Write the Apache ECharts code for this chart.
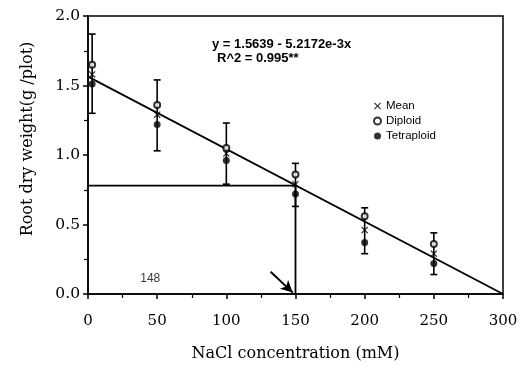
<!DOCTYPE html>
<html><head><meta charset="utf-8">
<script src="https://cdn.jsdelivr.net/npm/echarts@6/dist/echarts.min.js"></script>
<style>html,body{margin:0;padding:0;background:#fff}#c{width:526px;height:372px}</style>
</head><body><div id="c"></div>
<script>
var concentrations = [3, 50, 100, 150, 200, 250];
var diploid    = [1.65, 1.36, 1.05, 0.86, 0.56, 0.36];
var meanVals   = [1.58, 1.29, 1.01, 0.79, 0.46, 0.29];
var tetraploid = [1.51, 1.22, 0.96, 0.72, 0.37, 0.22];
var errLow     = [1.30, 1.03, 0.79, 0.63, 0.29, 0.14];
var errHigh    = [1.87, 1.54, 1.23, 0.94, 0.62, 0.44];
var regressionLine = [[0, 1.5639], [300, 0]];
var refLine = [[0, 0.78], [150, 0.78], [150, 0]];
var arrowFrom = [132, 0.16], arrowTo = [148, 0.01];
var annotationLabel = '148', annotationPos = [45, 0.11];
var equationText = 'y = 1.5639 - 5.2172e-3x';
var r2Text = 'R^2 = 0.995**';

function pairs(ys){ return concentrations.map(function(x,i){return [x, ys[i]];}); }

var chart = echarts.init(document.getElementById('c'), null, {renderer:'canvas'});
var serif = 'DejaVu Serif';
var crossPath = 'path://M0,1.2L1.2,0L5,3.8L8.8,0L10,1.2L6.2,5L10,8.8L8.8,10L5,6.2L1.2,10L0,8.8L3.8,5Z';
chart.setOption({
  animation:false,
  backgroundColor:'#fff',
  grid:{left:88, right:23, top:16, bottom:78, show:true, borderColor:'#000', borderWidth:1.5, backgroundColor:'transparent'},
  xAxis:{type:'value', min:0, max:300, interval:50,
    name:'NaCl concentration (mM)', nameLocation:'middle', nameGap:52,
    nameTextStyle:{fontFamily:serif, fontSize:16, color:'#000'},
    axisLine:{onZero:false, lineStyle:{color:'#000', width:1.5}},
    axisTick:{show:true, length:5, lineStyle:{color:'#000', width:1.5}},
    minorTick:{show:true, splitNumber:2, length:4, lineStyle:{color:'#000', width:1.2}},
    axisLabel:{fontFamily:serif, fontSize:15, color:'#000', margin:20},
    splitLine:{show:false}},
  yAxis:{type:'value', min:0, max:2, interval:0.5,
    name:'Root dry weight(g /plot)', nameLocation:'middle', nameGap:52,
    nameTextStyle:{fontFamily:serif, fontSize:16, color:'#000', padding:[0,0,0,32]},
    axisLine:{onZero:false, lineStyle:{color:'#000', width:1.5}},
    axisTick:{show:true, length:5, lineStyle:{color:'#000', width:1.5}},
    minorTick:{show:true, splitNumber:2, length:4, lineStyle:{color:'#000', width:1.2}},
    axisLabel:{fontFamily:serif, fontSize:15.5, color:'#000', margin:8, formatter:function(v){return v.toFixed(1);}},
    splitLine:{show:false}},
  legend:{orient:'vertical', left:368, top:95, itemGap:3, itemWidth:7, itemHeight:7,
    textStyle:{fontFamily:'Liberation Sans', fontSize:11.5, color:'#000'},
    data:['Mean','Diploid','Tetraploid']},
  graphic:[
    {type:'text', left:212, top:38, style:{text:equationText, fontFamily:'Liberation Sans', fontSize:13, fontWeight:'bold', fill:'#000'}},
    {type:'text', left:217, top:52, style:{text:r2Text, fontFamily:'Liberation Sans', fontSize:13, fontWeight:'bold', fill:'#000'}}
  ],
  series:[
    {type:'line', name:'reg', data:regressionLine, symbol:'none', lineStyle:{color:'#000', width:1.8}, silent:true, z:2},
    {type:'line', name:'ref', data:refLine, symbol:'none', lineStyle:{color:'#000', width:1.8}, silent:true, z:2,
      markLine:{silent:true, symbol:['none','arrow'], symbolSize:[9,12], label:{show:false},
        lineStyle:{color:'#000', width:2, type:'solid'},
        data:[[{coord:arrowFrom},{coord:arrowTo}]]}},
    {type:'custom', name:'err', silent:true, z:3,
      data: concentrations.map(function(x,i){return [x, errLow[i], errHigh[i]];}),
      renderItem:function(params, api){
        var lo = api.coord([api.value(0), api.value(1)]);
        var hi = api.coord([api.value(0), api.value(2)]);
        var w = 3.5;
        var st = {stroke:'#000', lineWidth:1.6};
        return {type:'group', children:[
          {type:'line', shape:{x1:lo[0], y1:lo[1], x2:hi[0], y2:hi[1]}, style:st},
          {type:'line', shape:{x1:lo[0]-w, y1:lo[1], x2:lo[0]+w, y2:lo[1]}, style:st},
          {type:'line', shape:{x1:hi[0]-w, y1:hi[1], x2:hi[0]+w, y2:hi[1]}, style:st}
        ]};
      }},
    {type:'scatter', name:'Mean', data:pairs(meanVals), symbol:crossPath, symbolSize:7, itemStyle:{color:'#000'}, z:5},
    {type:'scatter', name:'Diploid', data:pairs(diploid), symbol:'emptyCircle', symbolSize:6, itemStyle:{color:'#000', borderColor:'#000', borderWidth:1.5}, z:5},
    {type:'scatter', name:'Tetraploid', data:pairs(tetraploid), symbol:'circle', symbolSize:7, itemStyle:{color:'#000'}, z:5},
    {type:'scatter', name:'lab', data:[annotationPos], symbolSize:0, silent:true,
      label:{show:true, position:'inside', formatter:annotationLabel, fontFamily:'Liberation Sans', fontSize:12, color:'#000'}}
  ]
});
</script></body></html>
